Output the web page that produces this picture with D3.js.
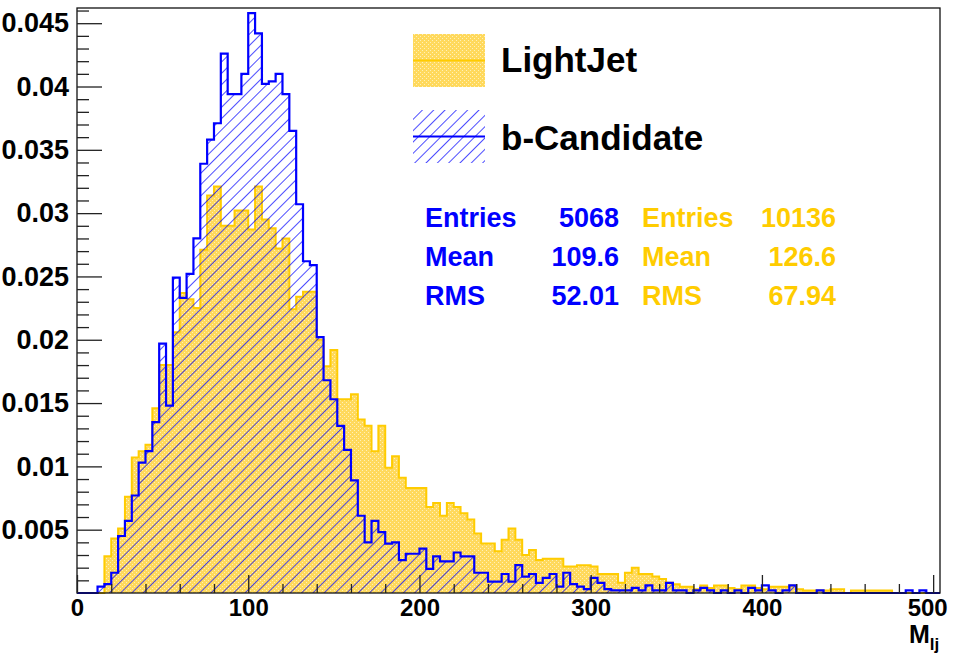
<!DOCTYPE html>
<html>
<head>
<meta charset="utf-8">
<script src="https://cdn.jsdelivr.net/npm/d3@7"></script>
<style>
  html, body { margin: 0; padding: 0; background: #fff; }
  svg { display: block; }
  text { font-family: "Liberation Sans", Arial, Helvetica, sans-serif; font-weight: bold; }
</style>
</head>
<body>
<svg id="chart" width="953" height="655"></svg>
<script>
// Dijet invariant mass M_lj, normalised histograms, 4-unit bins from 0 to 504
const binWidth = 4;
const xMax = 504;

// b-Candidate (blue, hatched)
const bCandidate = [
  0, 0, 0, 0.0005, 0.0007, 0.0016, 0.0045, 0.0057, 0.0077, 0.0103,
  0.0112, 0.0135, 0.0197, 0.0148, 0.0249, 0.0233, 0.0252, 0.0280, 0.0339, 0.0358,
  0.0371, 0.0426, 0.0394, 0.0394, 0.0410, 0.0458, 0.0442, 0.0402, 0.0404, 0.0410,
  0.0394, 0.0365, 0.0307, 0.0262, 0.0259, 0.0202, 0.0168, 0.0153, 0.0132, 0.0113,
  0.0089, 0.0061, 0.0040, 0.0057, 0.0048, 0.0039, 0.0040, 0.0026, 0.0031, 0.0031,
  0.0035, 0.0019, 0.0029, 0.0025, 0.0025, 0.0032, 0.0029, 0.0029, 0.0016, 0.0016,
  0.0009, 0.0009, 0.0015, 0.0009, 0.0022, 0.0013, 0.0015, 0.0008, 0.0012, 0.0015,
  0.0005, 0.0016, 0.0007, 0.0005, 0.0003, 0.0012, 0.0008, 0.0003, 0.0002, 0.0002,
  0.0002, 0.0004, 0.0002, 0.0006, 0.0002, 0.0002, 0.0008, 0.0002, 0.0002, 0,
  0.0002, 0.0004, 0.0002, 0, 0.0002, 0, 0.0002, 0, 0.0004, 0.0002,
  0.0006, 0.0002, 0, 0.0002, 0.0006, 0, 0, 0, 0.0002, 0,
  0, 0, 0, 0, 0, 0, 0, 0, 0, 0,
  0, 0.0002, 0, 0.0002, 0, 0
];

// LightJet (yellow, dotted fill)
const lightJet = [
  0, 0, 0, 0, 0.0029, 0.0043, 0.0051, 0.0076, 0.0107, 0.0112,
  0.0117, 0.0146, 0.0180, 0.0180, 0.0206, 0.0237, 0.0232, 0.0225, 0.0271, 0.0314,
  0.0321, 0.0290, 0.0290, 0.0302, 0.0302, 0.0287, 0.0321, 0.0295, 0.0288, 0.0272,
  0.0280, 0.0224, 0.0234, 0.0238, 0.0238, 0.0200, 0.0179, 0.0192, 0.0153, 0.0153,
  0.0157, 0.0137, 0.0132, 0.0112, 0.0132, 0.0099, 0.0108, 0.0091, 0.0083, 0.0083,
  0.0083, 0.0068, 0.0071, 0.0061, 0.0071, 0.0068, 0.0063, 0.0058, 0.0047, 0.0039,
  0.0039, 0.0033, 0.0042, 0.0051, 0.0042, 0.0030, 0.0034, 0.0026, 0.0027, 0.0027,
  0.0027, 0.0021, 0.0021, 0.0022, 0.0022, 0.0021, 0.0015, 0.0015, 0.0015, 0.0008,
  0.0016, 0.0020, 0.0015, 0.0015, 0.0013, 0.0011, 0.0008, 0.0007, 0.0005, 0.0005,
  0.0003, 0.0006, 0.0004, 0.0006, 0.0006, 0.0004, 0.0003, 0.0006, 0.0006, 0.0004,
  0.0003, 0.0005, 0.0005, 0.0005, 0.0006, 0.0003, 0.0002, 0.0002, 0.0002, 0.0002,
  0.0003, 0.0003, 0, 0.0002, 0.0002, 0.0002, 0.0002, 0.0002, 0.0002, 0,
  0, 0, 0, 0, 0, 0
];

// Axis ticks and labels
const xMajorTicks = [0, 100, 200, 300, 400, 500];
const xTickLabels = ["0", "100", "200", "300", "400", "500"];
const yMajorTicks = [0.005, 0.01, 0.015, 0.02, 0.025, 0.03, 0.035, 0.04, 0.045];
const yTickLabels = ["0.005", "0.01", "0.015", "0.02", "0.025", "0.03", "0.035", "0.04", "0.045"];

// Legend entries and statistics boxes
const legendNames = ["LightJet", "b-Candidate"];
const statNames = ["Entries", "Mean", "RMS"];
const bStats = ["5068", "109.6", "52.01"];
const lightStats = ["10136", "126.6", "67.94"];

const BLUE = "#0000ff";
const YELLOW = "#ffcc00";
const YELLOW_FILL = "#ffd95c";

const svg = d3.select("#chart");
const W = 953, H = 655;
const frame = { left: 77, right: 940, top: 8, bottom: 593 };

const x = d3.scaleLinear().domain([0, xMax]).range([frame.left, frame.right]);
const y = d3.scaleLinear().domain([0, 0.0462]).range([frame.bottom, frame.top]);

svg.append("rect").attr("width", W).attr("height", H).attr("fill", "#fff");

// fill patterns: fine dots for LightJet, 45-degree hatching for b-Candidate
const defs = svg.append("defs");
const dots = defs.append("pattern")
  .attr("id", "dots").attr("patternUnits", "userSpaceOnUse")
  .attr("width", 4).attr("height", 4);
dots.append("rect").attr("width", 4).attr("height", 4).attr("fill", YELLOW_FILL);
dots.append("rect").attr("x", 0).attr("y", 0).attr("width", 1).attr("height", 1).attr("fill", "#fff0b8");
dots.append("rect").attr("x", 2).attr("y", 2).attr("width", 1).attr("height", 1).attr("fill", "#fff0b8");

const hatch = defs.append("pattern")
  .attr("id", "hatch").attr("patternUnits", "userSpaceOnUse")
  .attr("width", 8).attr("height", 8)
  .attr("patternTransform", "rotate(45)");
hatch.append("line").attr("x1", 0).attr("y1", 0).attr("x2", 0).attr("y2", 8)
  .attr("stroke", BLUE).attr("stroke-width", 1.4);

// step points: one per bin low edge, plus closing points on the baseline
function stepPoints(vals) {
  const pts = [[0, 0]];
  vals.forEach((v, i) => pts.push([i * binWidth, v]));
  pts.push([vals.length * binWidth, 0]);
  return pts;
}

const area = d3.area().curve(d3.curveStepAfter)
  .x(d => x(d[0])).y0(y(0)).y1(d => y(d[1]));
const line = d3.line().curve(d3.curveStepAfter)
  .x(d => x(d[0])).y(d => y(d[1]));

const plot = svg.append("g");

const ljPts = stepPoints(lightJet);
plot.append("path").attr("d", area(ljPts)).attr("fill", "url(#dots)");
plot.append("path").attr("d", line(ljPts)).attr("fill", "none")
  .attr("stroke", YELLOW).attr("stroke-width", 2);

const bPts = stepPoints(bCandidate);
plot.append("path").attr("d", area(bPts)).attr("fill", "url(#hatch)");
plot.append("path").attr("d", line(bPts)).attr("fill", "none")
  .attr("stroke", BLUE).attr("stroke-width", 2.2);

// frame
svg.append("rect")
  .attr("x", frame.left).attr("y", frame.top)
  .attr("width", frame.right - frame.left).attr("height", frame.bottom - frame.top)
  .attr("fill", "none").attr("stroke", "#111").attr("stroke-width", 1.3);

// axes with inward ticks
const yMinorTicks = d3.range(1, 47).map(k => k * 0.001).filter(v => Math.abs(v / 0.005 - Math.round(v / 0.005)) > 1e-6);
const xMinorTicks = d3.range(20, 504, 20).filter(v => v % 100 !== 0);

function styleAxis(size) {
  return g => {
    g.select(".domain").remove();
    g.selectAll(".tick line").attr("stroke", "#222").attr("stroke-width", 1.3);
    g.selectAll("text").attr("fill", "#000").attr("font-size", size)
      .attr("font-family", "'Liberation Sans', Arial, sans-serif").attr("font-weight", "bold");
  };
}

svg.append("g").attr("transform", `translate(${frame.left},0)`)
  .call(d3.axisLeft(y).tickValues(yMinorTicks).tickSize(-12).tickFormat(""))
  .call(styleAxis(27));
svg.append("g").attr("transform", `translate(${frame.left},0)`)
  .call(d3.axisLeft(y).tickValues(yMajorTicks).tickSize(-25).tickPadding(8)
    .tickFormat((d, i) => yTickLabels[i]))
  .call(styleAxis(27));

svg.append("g").attr("transform", `translate(0,${frame.bottom})`)
  .call(d3.axisBottom(x).tickValues(xMinorTicks).tickSize(-9).tickFormat(""))
  .call(styleAxis(24));
svg.append("g").attr("transform", `translate(0,${frame.bottom})`)
  .call(d3.axisBottom(x).tickValues(xMajorTicks).tickSize(-18).tickPadding(4)
    .tickFormat((d, i) => xTickLabels[i]))
  .call(styleAxis(24))
  .call(g => g.selectAll("text").attr("dy", "0.8em"))
  .call(g => g.selectAll(".tick").filter(d => d === 500).select("text").attr("dx", -6));

// axis title M_lj
const title = svg.append("text").attr("x", 909).attr("y", 643).attr("font-size", 25).attr("fill", "#000");
title.append("tspan").text("M");
title.append("tspan").attr("font-size", 17).attr("dy", 7).text("lj");

// legend
const legend = svg.append("g");
const boxes = [
  { fill: "url(#dots)", stroke: YELLOW, y0: 34 },
  { fill: "url(#hatch)", stroke: BLUE, y0: 110 }
];
boxes.forEach((b, i) => {
  legend.append("rect").attr("x", 413).attr("y", b.y0).attr("width", 72).attr("height", 53)
    .attr("fill", b.fill);
  legend.append("line").attr("x1", 413).attr("x2", 485)
    .attr("y1", b.y0 + 26.5).attr("y2", b.y0 + 26.5)
    .attr("stroke", b.stroke).attr("stroke-width", 2);
  legend.append("text").attr("x", 501).attr("y", b.y0 + 38 + (i ? 2 : 0)).attr("font-size", 35)
    .attr("fill", "#000").text(legendNames[i]);
});

// statistics columns
const stats = svg.append("g").attr("font-size", 27);
statNames.forEach((name, i) => {
  const yy = 227 + i * 39;
  stats.append("text").attr("x", 425).attr("y", yy).attr("fill", BLUE).text(name);
  stats.append("text").attr("x", 619).attr("y", yy).attr("fill", BLUE)
    .attr("text-anchor", "end").text(bStats[i]);
  stats.append("text").attr("x", 642).attr("y", yy).attr("fill", YELLOW).text(name);
  stats.append("text").attr("x", 836).attr("y", yy).attr("fill", YELLOW)
    .attr("text-anchor", "end").text(lightStats[i]);
});
</script>
</body>
</html>
